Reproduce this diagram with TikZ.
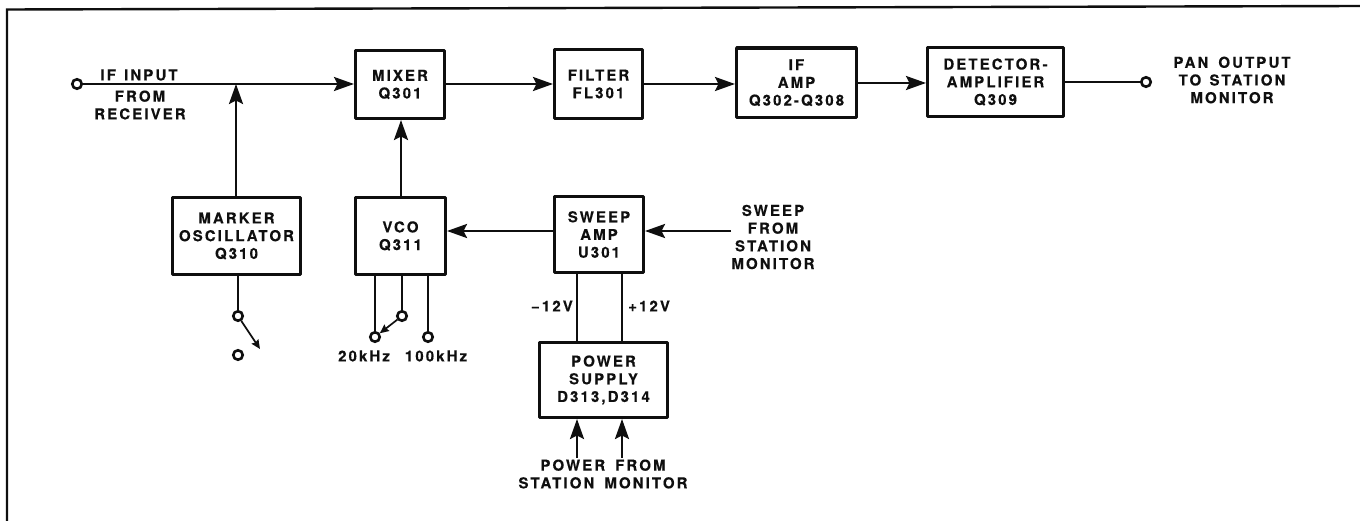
\documentclass[tikz,border=0pt]{standalone}
\usepackage{fontspec}
\setmainfont[LetterSpace=14,FakeBold=0.3,WordSpace=1.6]{TeX Gyre Heros}
\usetikzlibrary{arrows.meta}
\definecolor{ink}{gray}{0.06}
\tikzset{
  x=1pt,y=-1pt,
  blockbox/.style={draw=ink,line width=3.4pt,line join=round,fill=none,inner sep=0pt,align=center,text=ink,font=\fontsize{15}{17.7}\selectfont\bfseries,anchor=north west},
  lbl/.style={inner sep=0pt,align=center,text=ink,font=\fontsize{15}{17.7}\selectfont\bfseries},
  wire/.style={draw=ink,line width=2.5pt},
  flow/.style={wire,-{Stealth[length=20pt,width=14pt,inset=3.5pt]}},
  thinflow/.style={draw=ink,line width=1.7pt,-{Stealth[length=9pt,width=8pt,inset=1pt]}},
  term/.style={circle,draw=ink,line width=2.6pt,minimum size=9.5pt,inner sep=0pt,fill=white},
}
\newcommand{\blk}[6]{\node[blockbox,minimum width=#4pt-#2pt-3.4pt,minimum height=#5pt-#3pt-3.4pt] (#1) at (#2,#3) {#6};}
\begin{document}
\begin{tikzpicture}
\useasboundingbox (0,0) rectangle (1360,521);
\coordinate (fa) at (7,521);
\coordinate (fb) at (7,9.5);
\coordinate (fc) at (1360,6);
\draw[draw=ink,line width=2.4pt] (fa) -- (fb) -- (fc);
\blk{mixer}{354}{49}{446}{120}{MIXER\\Q301}
\blk{filter}{553}{48}{644}{120}{FILTER\\FL301}
\blk{ifamp}{735}{46.5}{858}{119}{IF\\AMP\\Q302-Q308}
\blk{det}{926}{46}{1065}{118}{DETECTOR-\\AMPLIFIER\\Q309}
\blk{marker}{171}{196}{302}{276}{MARKER\\OSCILLATOR\\Q310}
\blk{vco}{354}{196}{447}{276}{VCO\\Q311}
\blk{sweep}{553}{195}{645}{274}{SWEEP\\AMP\\U301}
\blk{power}{538}{341}{669}{419}{POWER\\SUPPLY\\D313,D314}
\node[term] (tin) at (77,84) {};
\node[term] (tout) at (1146,82) {};
\node[term] (ma) at (238,316) {};
\node[term] (mb) at (238,355) {};
\node[term] (va) at (375,337) {};
\node[term] (vb) at (402,316) {};
\node[term] (vc) at (428,337) {};
\coordinate (mtip) at (260,349);
\coordinate (swin) at (731,231);
\coordinate (pa) at (577,458);
\coordinate (pb) at (622,458);
\coordinate (jn) at (236,84);
\node[lbl] at (139,75) {IF\hspace{0.55em}INPUT};
\node[lbl] at (140,105) {FROM\\RECEIVER};
\node[lbl] at (1232,80) {PAN OUTPUT\\TO\hspace{0.55em}STATION\\MONITOR};
\node[lbl] at (773,237) {SWEEP\\FROM\\STATION\\MONITOR};
\node[lbl,anchor=east] at (573,306) {−12V};
\node[lbl,anchor=west] at (628,306) {+12V};
\node[lbl] at (603,474) {POWER FROM\\STATION MONITOR};
\node[lbl] at (364,356) {20kHz};
\node[lbl] at (436,356) {100kHz};
\draw[flow] (tin) -- (mixer.west |- tin);
\draw[flow] (mixer.east |- 0,84) -- (filter.west |- 0,84);
\draw[flow] (filter.east |- 0,84) -- (ifamp.west |- 0,84);
\draw[flow] (ifamp.east |- 0,83) -- (det.west |- 0,83);
\draw[wire] (det.east |- tout) -- (tout);
\draw[flow] (marker.north -| jn) -- (jn);
\draw[flow] (vco.north -| 401,0) -- (mixer.south -| 401,0);
\draw[flow] (sweep.west |- 0,231) -- (vco.east |- 0,231);
\draw[flow] (swin) -- (sweep.east |- swin);
\draw[wire] (marker.south -| ma) -- (ma);
\draw[thinflow] (ma) -- (mtip);
\draw[wire] (vco.south -| va) -- (va);
\draw[wire] (vco.south -| vb) -- (vb);
\draw[wire] (vco.south -| vc) -- (vc);
\draw[thinflow] (vb) -- (va);
\draw[wire] (sweep.south -| pa) -- (power.north -| pa);
\draw[wire] (sweep.south -| pb) -- (power.north -| pb);
\draw[flow] (pa) -- (power.south -| pa);
\draw[flow] (pb) -- (power.south -| pb);
\end{tikzpicture}
\end{document}
